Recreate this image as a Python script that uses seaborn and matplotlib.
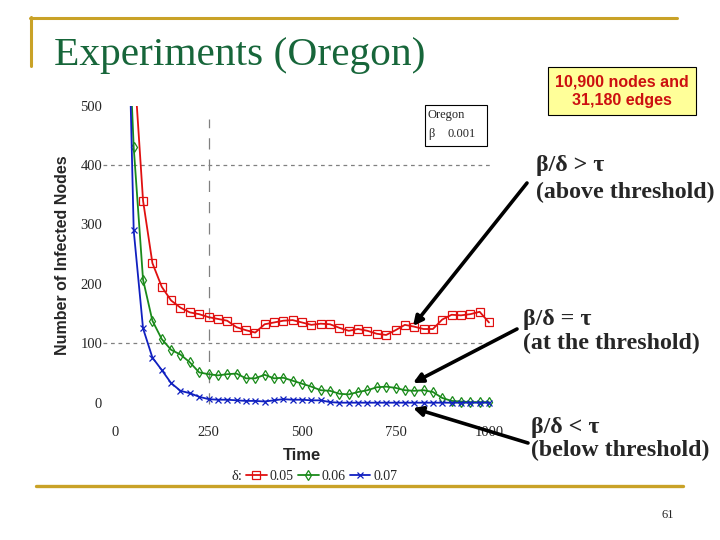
import numpy as np
import pandas as pd
import seaborn as sns
import matplotlib.pyplot as plt
from matplotlib.lines import Line2D
from matplotlib.patches import Rectangle

# data (time step 25)
time = list(range(0, 1001, 25))
red_005 = [1400, 950, 580, 340, 235, 195, 172, 160, 152, 149,
           144, 141, 138, 127, 122, 118, 132, 135, 138, 139,
           135, 131, 133, 132, 126, 121, 124, 121, 116, 114,
           122, 131, 128, 124, 124, 140, 148, 147, 149, 153, 135]
green_006 = [1300, 800, 430, 207, 138, 107, 89, 81, 68, 51,
             48, 46, 48, 49, 41, 41, 47, 41, 42, 37,
             32, 27, 21, 20, 15, 14, 18, 21, 26, 27,
             25, 21, 20, 21, 18, 8, 3, 2, 1, 1, 1]
blue_007 = [1200, 950, 290, 125, 76, 55, 33, 20, 16, 10,
            6, 5, 5, 4, 3, 3, 2, 4, 6, 5,
            5, 4, 4, 1] + [0] * 17
deltas = ['0.05', '0.06', '0.07']
x_ticks = [0, 250, 500, 750, 1000]
y_ticks = [0, 100, 200, 300, 400, 500]

df = pd.DataFrame({
    'time': time * 3,
    'count': red_005 + green_006 + blue_007,
    'delta': np.repeat(deltas, len(time)),
})

sns.set_style('white')
plt.rcParams['font.family'] = ['Liberation Serif', 'DejaVu Serif']

W, H = 720, 540
def fx(x):
    return x / W
def fy(y):
    return 1 - y / H

fig = plt.figure(figsize=(7.2, 5.4), dpi=100, facecolor='white')
# axes: x 0->115px, 1000->489px ; y 0->402.7px, 500->105.6px
sx = 374 / 1000
sy = 297.1 / 500
x0, x1 = -12, 1012
y0, y1 = -8, 500
left = 115 + x0 * sx
right = 115 + x1 * sx
bottom = 402.7 - y0 * sy
top = 402.7 - y1 * sy
ax = fig.add_axes([fx(left), fy(bottom), (right - left) / W, (bottom - top) / H])

red, green, blue = '#e01010', '#1a8a1a', '#1020c0'
sns.lineplot(data=df, x='time', y='count', hue='delta',
             palette=[red, green, blue], linewidth=1.3, legend=False, ax=ax)
data_lines = list(ax.lines[:3])
for ln, mk, ms in zip(data_lines, ['s', 'd', 'x'], [6, 5.5, 5]):
    ln.set_marker(mk)
    ln.set_markeredgecolor(ln.get_color())
    ln.set_markerfacecolor('none')
    ln.set_markeredgewidth(0.9)
    ln.set_markersize(ms)

ax.set_xlim(x0, x1)
ax.set_ylim(y0, y1)
ax.set_xticks(x_ticks)
ax.set_yticks(y_ticks)
ax.tick_params(length=0, labelsize=10.5)
ax.tick_params(axis='x', pad=13)
ax.tick_params(axis='y', pad=6)
for s in ax.spines.values():
    s.set_visible(False)
ax.set_xlabel('')
ax.set_ylabel('')
ax.patch.set_alpha(0)

# sparse dashed grid lines as on the slide
for yv in [100, 400]:
    ax.axhline(yv, xmin=-0.02, xmax=0.99, color='#808080', lw=0.9,
               ls=(0, (3, 3)), clip_on=False, zorder=0)
ax.axvline(250, ymin=0.01, ymax=0.955, color='#808080', lw=0.9,
           ls=(0, (9, 8)), zorder=0)

# axis labels
fig.text(fx(63), fy(255), 'Number of Infected Nodes', rotation=90,
         ha='center', va='center', fontsize=11.5, fontweight='bold',
         family=['Liberation Sans', 'DejaVu Sans'])
fig.text(fx(302), fy(455), 'Time', ha='center', va='center',
         fontsize=12, fontweight='bold', family=['Liberation Sans', 'DejaVu Sans'])

# legend at the bottom
fig.text(fx(237), fy(477), 'δ:', ha='center', va='center', fontsize=10.5)
fig.legend(data_lines, deltas, loc='center left', bbox_to_anchor=(fx(246), fy(476)),
           ncol=3, frameon=False, fontsize=10, handlelength=1.5,
           handletextpad=0.2, columnspacing=0.3, borderpad=0, borderaxespad=0)

# inset box
fig.add_artist(Rectangle((fx(425), fy(146)), (487 - 425) / W, (146 - 105) / H,
                         transform=fig.transFigure, fill=False, lw=0.8,
                         edgecolor='black'))
fig.text(fx(428), fy(115), 'Oregon', ha='left', va='center', fontsize=9)
fig.text(fx(428), fy(134), 'β', ha='left', va='center', fontsize=9)
fig.text(fx(448), fy(134), '0.001', ha='left', va='center', fontsize=9)

# slide decoration
gold = '#c9a227'
fig.add_artist(Line2D([fx(30), fx(677)], [fy(18), fy(18)], color=gold, lw=2.2,
                      transform=fig.transFigure))
fig.add_artist(Line2D([fx(31.5), fx(31.5)], [fy(17), fy(66)], color=gold, lw=2.2,
                      transform=fig.transFigure))
fig.add_artist(Line2D([fx(36), fx(683)], [fy(486), fy(486)], color=gold, lw=2.4,
                      transform=fig.transFigure))

fig.text(fx(54), fy(65), 'Experiments (Oregon)', ha='left', va='baseline',
         fontsize=29.8, color='#17663a')

fig.text(fx(622), fy(91), '10,900 nodes and\n31,180 edges', ha='center',
         va='center', fontsize=11.5, fontweight='bold', color='#cc1010',
         family=['Liberation Sans', 'DejaVu Sans'], linespacing=1.25,
         bbox=dict(boxstyle='square,pad=0.45', facecolor='#ffff99',
                   edgecolor='black', lw=0.8))

# threshold annotations (one text per line)
notes = [('β/δ > τ', 536, 165), ('(above threshold)', 536, 192),
         ('β/δ = τ', 523, 319), ('(at the threshold)', 523, 343),
         ('β/δ < τ', 531, 428), ('(below threshold)', 531, 450)]
for txt, xx, yy in notes:
    fig.text(fx(xx), fy(yy), txt, ha='left', va='center', fontsize=17.2,
             fontweight='bold')

arrows = [((527, 183), (413, 326)),
          ((517, 329), (413, 383)),
          ((528, 443), (413, 408))]
for (sx0, sy0), (ex, ey) in arrows:
    ax.annotate('', xy=(fx(ex), fy(ey)), xytext=(fx(sx0), fy(sy0)),
                xycoords='figure fraction', textcoords='figure fraction',
                arrowprops=dict(arrowstyle='-|>', lw=2.6, color='black',
                                mutation_scale=14, shrinkA=0, shrinkB=0))

fig.text(fx(668), fy(515), '61', ha='center', va='center', fontsize=9)

fig.savefig('out.png', dpi=100, facecolor='white')
